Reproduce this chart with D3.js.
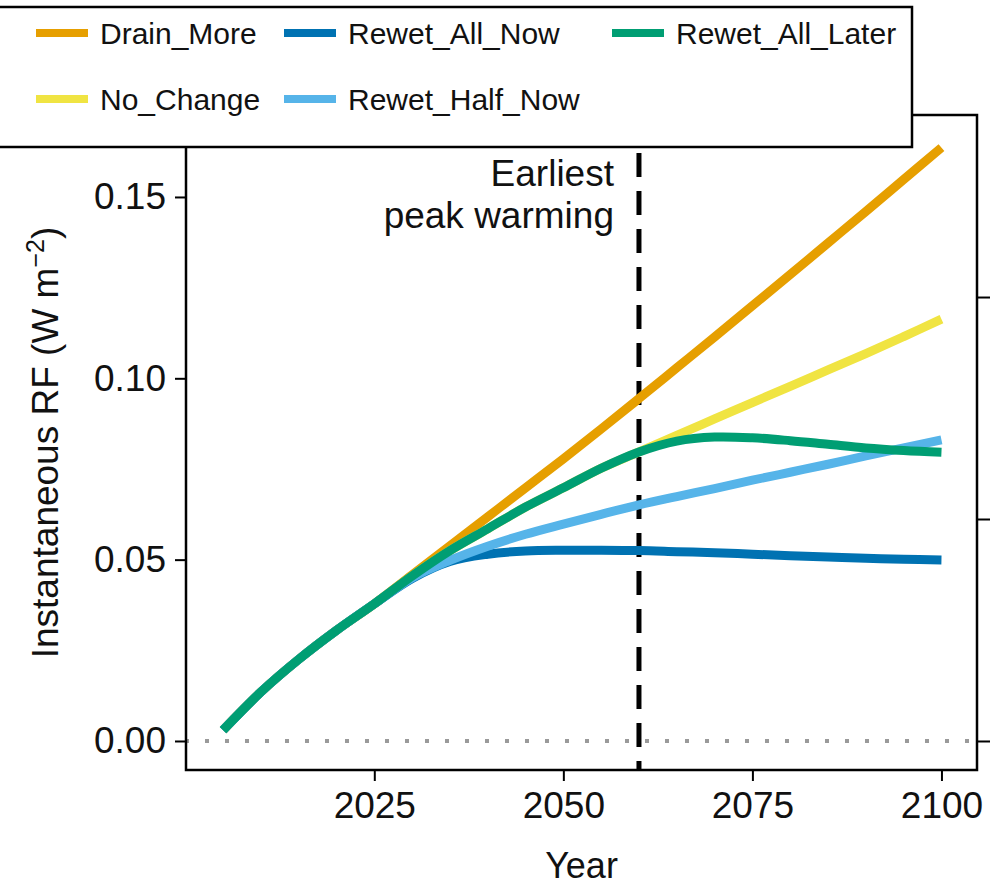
<!DOCTYPE html>
<html>
<head>
<meta charset="utf-8">
<script src="https://cdn.jsdelivr.net/npm/d3@7"></script>
<style>
  html, body { margin: 0; padding: 0; background: #fff; }
  svg { display: block; font-family: "Liberation Sans", Arial, Helvetica, sans-serif; }
</style>
</head>
<body>
<svg id="chart" width="990" height="887"></svg>
<script>
// Years sampled every 5 years
const years = [2005, 2010, 2015, 2020, 2025, 2030, 2035, 2040, 2045, 2050,
               2055, 2060, 2065, 2070, 2075, 2080, 2085, 2090, 2095, 2100];

// Instantaneous radiative forcing (W m^-2) per scenario
const drainMore     = [0.0030, 0.0135, 0.0225, 0.0305, 0.0378, 0.0458, 0.0538, 0.0618, 0.0698, 0.0778,
                       0.0860, 0.0944, 0.1029, 0.1114, 0.1200, 0.1286, 0.1373, 0.1460, 0.1548, 0.1636];
const noChange      = [0.0030, 0.0135, 0.0225, 0.0305, 0.0378, 0.0455, 0.0525, 0.0585, 0.0645, 0.0698,
                       0.0752, 0.0797, 0.0843, 0.0888, 0.0933, 0.0978, 0.1023, 0.1068, 0.1115, 0.1163];
const rewetAllNow   = [0.0030, 0.0135, 0.0225, 0.0305, 0.0378, 0.0448, 0.0495, 0.0515, 0.0524, 0.0526,
                       0.0526, 0.0525, 0.0522, 0.0519, 0.0515, 0.0511, 0.0507, 0.0504, 0.0501, 0.0499];
const rewetHalfNow  = [0.0030, 0.0135, 0.0225, 0.0305, 0.0378, 0.0450, 0.0498, 0.0537, 0.0570, 0.0598,
                       0.0625, 0.0651, 0.0674, 0.0696, 0.0719, 0.0741, 0.0763, 0.0786, 0.0808, 0.0830];
const rewetAllLater = [0.0030, 0.0135, 0.0225, 0.0305, 0.0378, 0.0455, 0.0525, 0.0585, 0.0645, 0.0698,
                       0.0752, 0.0797, 0.0827, 0.0838, 0.0836, 0.0828, 0.0818, 0.0808, 0.0801, 0.0796];

const seriesNames  = ["Drain_More", "Rewet_All_Now", "Rewet_All_Later", "No_Change", "Rewet_Half_Now"];
const seriesColors = ["#E69F00", "#0072B2", "#009E73", "#F0E442", "#56B4E9"];

const xTicks = [2025, 2050, 2075, 2100];
const yTicks = [0.00, 0.05, 0.10, 0.15];
const rightTicks = [0, 1, 2];
const peakYear = 2060;

const seriesValues = {
  "Drain_More": drainMore,
  "Rewet_All_Now": rewetAllNow,
  "Rewet_All_Later": rewetAllLater,
  "No_Change": noChange,
  "Rewet_Half_Now": rewetHalfNow
};
// stacking order of the lines (last drawn on top)
const drawOrder = ["Drain_More", "No_Change", "Rewet_All_Now", "Rewet_Half_Now", "Rewet_All_Later"];

const svg = d3.select("#chart");
const plot = { left: 186, right: 977, top: 115, bottom: 770 };

const x = d3.scaleLinear().domain([2000.1, 2104.7]).range([plot.left, plot.right]);
const y = d3.scaleLinear().domain([-0.008, 0.1726]).range([plot.bottom, plot.top]);
const yRight = d3.scaleLinear().domain([-0.1307, 2.820]).range([plot.bottom, plot.top]);

const color = d3.scaleOrdinal().domain(seriesNames).range(seriesColors);

// zero reference line (dotted)
svg.append("line")
  .attr("x1", plot.left).attr("x2", plot.right)
  .attr("y1", y(0)).attr("y2", y(0))
  .attr("stroke", "#9a9a9a").attr("stroke-width", 4)
  .attr("stroke-dasharray", "4 16").attr("stroke-dashoffset", 1);

// earliest peak warming marker
svg.append("line")
  .attr("x1", x(peakYear)).attr("x2", x(peakYear))
  .attr("y1", plot.top).attr("y2", plot.bottom)
  .attr("stroke", "#000").attr("stroke-width", 5)
  .attr("stroke-dasharray", "24 14");

// scenario lines
const line = d3.line()
  .x((d, i) => x(years[i]))
  .y(d => y(d))
  .curve(d3.curveCatmullRom.alpha(0.5));

svg.append("g").selectAll("path")
  .data(drawOrder)
  .join("path")
  .attr("d", k => line(seriesValues[k]))
  .attr("fill", "none")
  .attr("stroke", k => color(k))
  .attr("stroke-width", 9)
  .attr("stroke-linecap", "butt")
  .attr("stroke-linejoin", "round");

// axes
const tickFont = 37;
const xAxis = svg.append("g")
  .attr("transform", `translate(0,${plot.bottom})`)
  .call(d3.axisBottom(x).tickValues(xTicks).tickFormat(d3.format("d")).tickSize(11).tickPadding(11));
const yAxis = svg.append("g")
  .attr("transform", `translate(${plot.left},0)`)
  .call(d3.axisLeft(y).tickValues(yTicks).tickFormat(d3.format(".2f")).tickSize(11).tickPadding(9));
const rAxis = svg.append("g")
  .attr("transform", `translate(${plot.right},0)`)
  .call(d3.axisRight(yRight).tickValues(rightTicks).tickFormat("").tickSize(13));

[xAxis, yAxis, rAxis].forEach(g => {
  g.select(".domain").remove();
  g.selectAll(".tick line").attr("stroke", "#000").attr("stroke-width", 2);
  g.selectAll(".tick text").attr("fill", "#111").style("font-size", tickFont + "px")
    .style("font-family", "'Liberation Sans', Arial, sans-serif");
});

// plot frame
svg.append("rect")
  .attr("x", plot.left).attr("y", plot.top)
  .attr("width", plot.right - plot.left).attr("height", plot.bottom - plot.top)
  .attr("fill", "none").attr("stroke", "#000").attr("stroke-width", 2.5);

// axis titles
svg.append("text")
  .attr("x", (plot.left + plot.right) / 2).attr("y", 878)
  .attr("text-anchor", "middle").attr("fill", "#111")
  .style("font-size", "36px").text("Year");

const yTitle = svg.append("text")
  .attr("transform", `translate(58,${(plot.top + plot.bottom) / 2}) rotate(-90)`)
  .attr("text-anchor", "middle").attr("fill", "#111")
  .style("font-size", "37px");
yTitle.append("tspan").text("Instantaneous RF (W m");
yTitle.append("tspan").attr("dy", -14).style("font-size", "25px").text("\u22122");
yTitle.append("tspan").attr("dy", 14).text(")");

// annotation
const note = svg.append("text")
  .attr("text-anchor", "end").attr("fill", "#111")
  .style("font-size", "37px");
note.append("tspan").attr("x", x(peakYear) - 25).attr("y", 186).text("Earliest");
note.append("tspan").attr("x", x(peakYear) - 25).attr("y", 228).text("peak warming");

// legend
const legend = svg.append("g");
legend.append("rect")
  .attr("x", -3).attr("y", 7).attr("width", 915).attr("height", 140)
  .attr("fill", "#fff").attr("stroke", "#000").attr("stroke-width", 2.5);

const legendCols = [36, 284, 612];
const legendRows = [33, 99];
const legendItems = legendRows.flatMap((ry, r) =>
  legendCols.map((cx, c) => ({ name: seriesNames[r * 3 + c], cx, ry }))
).filter(d => d.name);

const li = legend.selectAll("g.item").data(legendItems).join("g").attr("class", "item");
li.append("line")
  .attr("x1", d => d.cx).attr("x2", d => d.cx + 52)
  .attr("y1", d => d.ry).attr("y2", d => d.ry)
  .attr("stroke", d => color(d.name)).attr("stroke-width", 8);
li.append("text")
  .attr("x", d => d.cx + 64).attr("y", d => d.ry + 11)
  .attr("fill", "#111").style("font-size", "30px")
  .text(d => d.name);
</script>
</body>
</html>
